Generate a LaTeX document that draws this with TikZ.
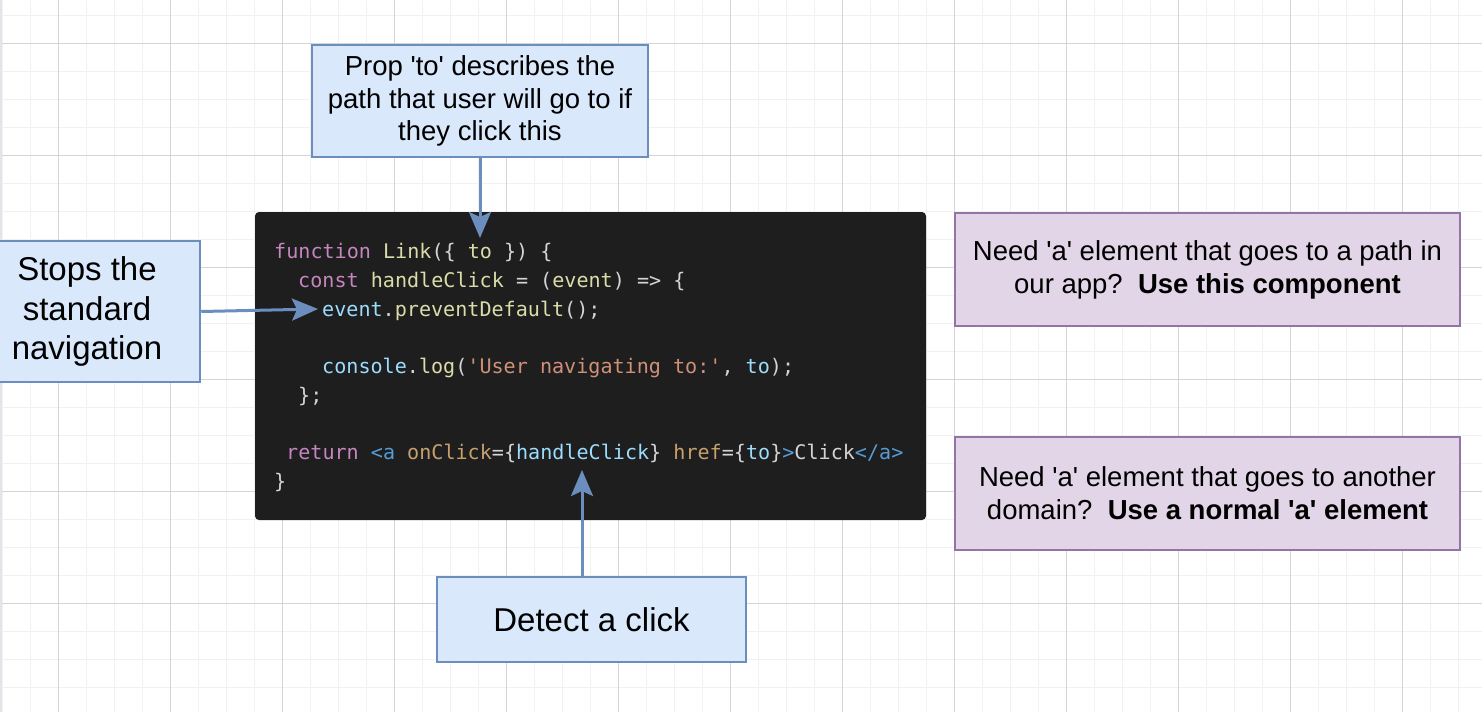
\documentclass[tikz,border=0pt]{standalone}
\usepackage{fontspec}
\setmainfont{Liberation Sans}[Ligatures=TeXOff]
\newfontfamily\codefont{DejaVu Sans Mono}[Ligatures=TeXOff]
\usetikzlibrary{arrows.meta}
\definecolor{minorgrid}{HTML}{F1F1F1}
\definecolor{majorgrid}{HTML}{D5D5D5}
\definecolor{stripc}{HTML}{E4E4EA}
\definecolor{bluefill}{HTML}{DAE8FC}
\definecolor{bluestroke}{HTML}{6C8EBF}
\definecolor{purpfill}{HTML}{E1D5E7}
\definecolor{purpstroke}{HTML}{9673A6}
\definecolor{codebg}{HTML}{1E1E1E}
\definecolor{ckwc}{HTML}{C586C0}
\definecolor{cfnc}{HTML}{DCDCAA}
\definecolor{cvarc}{HTML}{9CDCFE}
\definecolor{cstrc}{HTML}{CE9178}
\definecolor{cpunc}{HTML}{D4D4D4}
\definecolor{ctagc}{HTML}{569CD6}
\definecolor{cattrc}{HTML}{C8A06E}
\newcommand\ckw[1]{\textcolor{ckwc}{#1}}
\newcommand\cfn[1]{\textcolor{cfnc}{#1}}
\newcommand\cvar[1]{\textcolor{cvarc}{#1}}
\newcommand\cstr[1]{\textcolor{cstrc}{#1}}
\newcommand\cpun[1]{\textcolor{cpunc}{#1}}
\newcommand\ctag[1]{\textcolor{ctagc}{#1}}
\newcommand\cattr[1]{\textcolor{cattrc}{#1}}
\frenchspacing
\tikzset{
  bluebox/.style={draw=bluestroke, fill=bluefill, line width=2.5pt, inner sep=0pt, align=center, text=black},
  purpbox/.style={draw=purpstroke, fill=purpfill, line width=2.5pt, inner sep=0pt, align=center, text=black,
    minimum width=505pt, minimum height=113pt, font=\fontsize{27.5}{33}\selectfont},
  codeline/.style={anchor=base west, inner sep=0pt, font=\codefont\fontsize{20.1}{24}\selectfont, text=cpunc},
  conn/.style={draw=bluestroke, line width=3pt, -{Stealth[length=26pt, width=22pt, inset=5pt]}},
}
\begin{document}
\begin{tikzpicture}[x=1pt, y=-1pt]
\path[use as bounding box] (0,0) rectangle (1482,712);
\clip (0,0) rectangle (1482,712);
\fill[white] (0,0) rectangle (1482,712);
% grid
\foreach \i in {0,...,52} \draw[minorgrid, line width=1pt] ({2+28*\i},0) -- ++(0,712);
\foreach \i in {-1,...,25} \draw[minorgrid, line width=1pt] (0,{15+28*\i}) -- ++(1482,0);
\foreach \i in {0,...,12} \draw[majorgrid, line width=1pt] ({58+112*\i},0) -- ++(0,712);
\foreach \i in {0,...,5} \draw[majorgrid, line width=1pt] (0,{43+112*\i}) -- ++(1482,0);
\fill[stripc] (0,0) rectangle (2,712);

% code block
\node[fill=codebg, rounded corners=4pt, minimum width=671pt, minimum height=308pt, inner sep=0pt] (code) at (590.5,366) {};
\node[codeline] (c1) at (274,258) {\ckw{function} \cfn{Link}(\{ \cfn{to} \}) \{};
\node[codeline] (c2) at (298,287) {\ckw{const} \cfn{handleClick} = (\cfn{event}) => \{};
\node[codeline] (c3) at (322,316) {\cvar{event}.\cfn{preventDefault}();};
\node[codeline] (c4) at (322,373) {\cvar{console}.\cfn{log}(\cstr{'User navigating to:'}, \cvar{to});};
\node[codeline] (c5) at (298,402) {\};};
\node[codeline] (c6) at (286,459) {\ckw{return} \ctag{<a} \cattr{onClick}=\{\cvar{handleClick}\} \cattr{href}=\{\cvar{to}\}\ctag{>}Click\ctag{</a>}};
\node[codeline] (c7) at (274,488) {\}};

% boxes
\node[bluebox, minimum width=336pt, minimum height=112pt, font=\fontsize{27.5}{32.5}\selectfont] (top) at (480,101)
  {Prop 'to' describes the\\path that user will go to if\\they click this};
\node[bluebox, minimum width=226pt, minimum height=141pt, font=\fontsize{33}{39.5}\selectfont] (left) at (87,311.5)
  {Stops the\\standard\\navigation};
\node[bluebox, minimum width=309pt, minimum height=85pt, font=\fontsize{33}{39.5}\selectfont] (bot) at (591.5,619.5)
  {Detect a click};
\node[purpbox] (r1) at (1207.5,269.5)
  {Need 'a' element that goes to a path in\\our app?~~\textbf{Use this component}};
\node[purpbox] (r2) at (1207.5,493.5)
  {Need 'a' element that goes to another\\domain?~~\textbf{Use a normal 'a' element}};

% connectors
\coordinate (tipTop) at (480,238);
\coordinate (tipLeft) at (318,309);
\coordinate (tipBot) at (582,470);
\draw[conn] (top.south) -- (tipTop);
\draw[conn] (left.east) -- (tipLeft);
\draw[conn] (tipBot |- bot.north) -- (tipBot);
\end{tikzpicture}
\end{document}
